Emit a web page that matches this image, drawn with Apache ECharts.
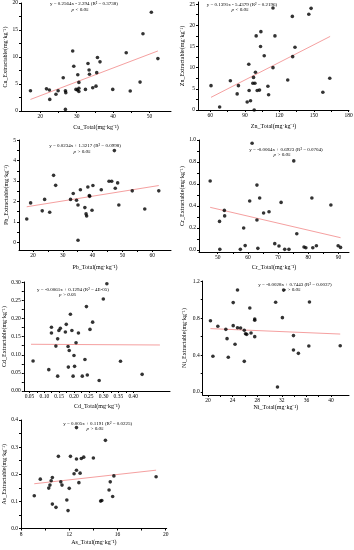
<!DOCTYPE html>
<html>
<head>
<meta charset="utf-8">
<script src="https://cdn.jsdelivr.net/npm/echarts@6.0.0/dist/echarts.min.js"></script>
<style>
html,body{margin:0;padding:0;background:#fff;}
#chart{width:354px;height:550px;}
</style>
</head>
<body>
<div id="chart"></div>
<script>
// ---------------- DATA ----------------
const cuTotal = [17.3, 21.7, 22.5, 22.6, 24.3, 24.9, 26.3, 26.9, 27.0, 26.9, 28.9, 29.2, 29.8, 30.3, 30.6, 30.6, 30.6, 30.2, 32.4, 33.1, 33.4, 33.5, 34.4, 35.3, 35.5, 35.7, 36.4, 39.9, 43.6, 44.7, 47.4, 48.2, 50.5, 52.3];
const cuExtr  = [3.75, 4.1, 3.9, 2.15, 3.1, 3.75, 6.15, 3.75, 3.4, 0.3, 11.1, 8.3, 4.0, 6.7, 5.3, 4.2, 3.6, 3.9, 4.0, 8.8, 7.6, 6.8, 4.3, 4.6, 7.1, 9.9, 9.1, 4.0, 10.8, 3.7, 5.35, 14.3, 18.3, 9.7];
const cuFit   = [[17.3, 2.14], [52.3, 11.12]];
const cuXTicks = [20, 30, 40, 50];
const cuYTicks = [0, 5, 10, 15, 20];

const znTotal = [60.6, 68.1, 77.4, 83.3, 84.4, 92.0, 93.4, 93.7, 94.9, 97.5, 96.9, 98.7, 98.1, 99.2, 99.8, 100.7, 102.7, 103.9, 103.6, 106.8, 110.0, 110.6, 114.4, 114.4, 116.1, 127.2, 131.2, 131.5, 133.5, 145.5, 147.5, 157.7, 163.7];
const znExtr  = [5.75, 0.7, 6.9, 3.8, 5.75, 1.9, 10.8, 4.6, 2.2, 7.7, 6.3, 6.3, 0.0, 8.9, 17.5, 4.6, 4.7, 18.5, 15.0, 12.8, 5.6, 3.6, 10.0, 24.1, 17.5, 7.1, 22.1, 12.6, 14.8, 22.6, 24.0, 4.2, 7.5];
const znFit   = [[60.6, 2.99], [164.0, 17.37]];
const znXTicks = [60, 90, 120, 150, 180];
const znYTicks = [0, 5, 10, 15, 20, 25];

const pbTotal = [17.9, 19.2, 23.1, 23.9, 25.6, 26.9, 27.6, 32.6, 33.5, 34.6, 35.1, 35.1, 35.9, 37.4, 37.8, 38.0, 38.4, 38.9, 39.0, 39.8, 40.1, 42.9, 45.5, 46.4, 47.3, 47.6, 48.4, 48.8, 53.3, 57.5, 62.2];
const pbExtr  = [1.14, 1.93, 1.54, 2.1, 1.47, 3.28, 2.79, 2.1, 2.39, 2.06, 1.83, 0.1, 2.57, 1.7, 1.39, 1.29, 2.71, 2.29, 2.25, 1.57, 2.78, 2.57, 2.99, 2.99, 4.49, 2.65, 2.91, 1.83, 2.52, 1.63, 2.52];
const pbFit   = [[17.9, 1.74], [62.2, 2.78]];
const pbXTicks = [20, 30, 40, 50, 60];
const pbYTicks = [0, 1, 2, 3, 4, 5];

const crTotal = [47.5, 50.6, 50.7, 52.2, 52.3, 57.5, 58.6, 59.1, 60.6, 61.4, 63.0, 63.0, 63.3, 63.9, 65.2, 67.0, 68.9, 70.3, 71.0, 72.2, 73.6, 75.2, 76.2, 78.6, 79.2, 81.2, 81.5, 82.7, 87.5, 89.9, 90.7];
const crExtr  = [0.627, 0.26, 0.006, 0.36, 0.31, 0.006, 0.2, 0.04, 0.445, 0.97, 0.59, 0.273, 0.015, 0.473, 0.336, 0.348, 0.058, 0.036, 0.433, 0.006, 0.006, 0.81, 0.148, 0.027, 0.021, 0.473, 0.021, 0.039, 0.409, 0.039, 0.024];
const crFit   = [[47.5, 0.388], [90.7, 0.112]];
const crXTicks = [50, 60, 70, 80, 90];
const crYTicks = [0, 0.2, 0.4, 0.6, 0.8, 1.0];

const cdTotal = [0.062, 0.115, 0.124, 0.124, 0.139, 0.145, 0.145, 0.149, 0.154, 0.171, 0.174, 0.180, 0.181, 0.184, 0.188, 0.193, 0.197, 0.200, 0.202, 0.207, 0.215, 0.228, 0.237, 0.242, 0.245, 0.254, 0.263, 0.285, 0.299, 0.311, 0.357, 0.43];
const cdExtr  = [0.083, 0.059, 0.176, 0.160, 0.124, 0.144, 0.041, 0.167, 0.173, 0.163, 0.184, 0.123, 0.066, 0.112, 0.212, 0.167, 0.041, 0.098, 0.068, 0.133, 0.160, 0.041, 0.087, 0.233, 0.044, 0.170, 0.190, 0.029, 0.254, 0.296, 0.082, 0.046];
const cdFit   = [[0.055, 0.129], [0.49, 0.127]];
const cdXTicks = [0.05, 0.10, 0.15, 0.20, 0.25, 0.30, 0.35, 0.40];
const cdYTicks = [0, 0.05, 0.10, 0.15, 0.20, 0.25, 0.30];

const niTotal = [20.4, 20.8, 21.6, 22.9, 23.1, 23.3, 24.1, 24.1, 24.4, 24.8, 24.8, 25.3, 25.9, 25.9, 26.1, 26.3, 26.8, 27.0, 27.6, 27.6, 27.6, 31.0, 31.3, 32.1, 32.3, 33.9, 33.9, 34.7, 36.4, 36.5, 41.5];
const niExtr  = [0.773, 0.387, 0.712, 0.679, 0.578, 0.376, 0.969, 0.719, 0.517, 1.106, 0.697, 0.694, 0.669, 0.332, 0.632, 0.625, 0.911, 0.640, 0.791, 0.777, 0.6, 0.972, 0.054, 0.806, 1.106, 0.611, 0.455, 0.419, 0.499, 0.976, 0.502];
const niFit   = [[20.4, 0.687], [41.5, 0.628]];
const niXTicks = [20, 24, 28, 32, 36, 40];
const niYTicks = [0, 0.4, 0.8, 1.2];

const asTotal = [9.1, 9.6, 10.3, 10.4, 10.5, 10.6, 10.6, 10.9, 11.1, 11.3, 11.4, 11.8, 11.9, 12.0, 12.1, 12.4, 12.6, 12.6, 12.6, 12.8, 12.9, 13.0, 13.2, 14.0, 14.6, 14.7, 15.0, 15.3, 15.4, 15.6, 15.7, 19.2];
const asExtr  = [0.121, 0.182, 0.149, 0.160, 0.176, 0.188, 0.090, 0.078, 0.266, 0.172, 0.160, 0.105, 0.066, 0.148, 0.266, 0.202, 0.215, 0.256, 0.372, 0.169, 0.204, 0.258, 0.263, 0.260, 0.101, 0.103, 0.325, 0.142, 0.172, 0.118, 0.194, 0.191];
const asFit   = [[9.1, 0.165], [19.2, 0.215]];
const asXTicks = [8, 12, 16, 20];
const asYTicks = [0, 0.1, 0.2, 0.3, 0.4];

const equations = [
  'y = 0.2564x - 2.294 (R\u00B2 = 0.3738)',
  'y = 0.1391x - 5.4379 (R\u00B2 = 0.2196)',
  'y = 0.0234x + 1.3217 (R\u00B2 = 0.0998)',
  'y = -0.0064x + 0.6923 (R\u00B2 = 0.0704)',
  'y = -0.0061x + 0.1294 (R\u00B2 = 4E-05)',
  'y = -0.0028x + 0.7443 (R\u00B2 = 0.0037)',
  'y = 0.005x + 0.1191 (R\u00B2 = 0.0225)'
];
const pTexts = ['p < 0.05', 'p < 0.05', 'p > 0.05', 'p > 0.05', 'p > 0.05', 'p > 0.05', 'p > 0.05'];
const elements = ['Cu', 'Zn', 'Pb', 'Cr', 'Cd', 'Ni', 'As'];

// ---------------- LAYOUT ----------------
const FONT = '"Liberation Serif", "Times New Roman", serif';
const panels = [
  {tx: cuTotal, ty: cuExtr, fit: cuFit, xt: cuXTicks, yt: cuYTicks, xd: 0, yd: 0,
   g: {left: 21, top: 3, width: 150, height: 108}, xr: [14.7, 55.9], yr: [0, 20],
   eqPos: [84, 4], pPos: [80, 9.5], xGap: 13, yGap: 11},
  {tx: znTotal, ty: znExtr, fit: znFit, xt: znXTicks, yt: znYTicks, xd: 0, yd: 0,
   g: {left: 198, top: 2, width: 151, height: 108}, xr: [49.3, 180.4], yr: [0, 25.5],
   eqPos: [242, 4.3], pPos: [240, 9.7], xGap: 13.5, yGap: 11},
  {tx: pbTotal, ty: pbExtr, fit: pbFit, xt: pbXTicks, yt: pbYTicks, xd: 0, yd: 0,
   g: {left: 19, top: 140, width: 152, height: 110}, xr: [15.3, 66.3], yr: [-0.377, 5.01],
   eqPos: [85, 146], pPos: [82, 151.7], xGap: 14, yGap: 10},
  {tx: crTotal, ty: crExtr, fit: crFit, xt: crXTicks, yt: crYTicks, xd: 0, yd: 1,
   g: {left: 199, top: 140, width: 150, height: 112}, xr: [43.8, 93.5], yr: [-0.018, 1.0],
   eqPos: [286, 149.3], pPos: [282, 154.3], xGap: 12.5, yGap: 11.5},
  {tx: cdTotal, ty: cdExtr, fit: cdFit, xt: cdXTicks, yt: cdYTicks, xd: 2, yd: 2,
   g: {left: 23.8, top: 282, width: 146.2, height: 109}, xr: [0.0307, 0.524], yr: [0, 0.3009],
   eqPos: [73, 290], pPos: [67.5, 295], xGap: 12.3, yGap: 14},
  {tx: niTotal, ty: niExtr, fit: niFit, xt: niXTicks, yt: niYTicks, xd: 0, yd: 1,
   g: {left: 202.7, top: 281, width: 146.3, height: 114}, xr: [19.14, 42.93], yr: [-0.0325, 1.203],
   eqPos: [295, 285], pPos: [292, 290], xGap: 9, yGap: 15},
  {tx: asTotal, ty: asExtr, fit: asFit, xt: asXTicks, yt: asYTicks, xd: 0, yd: 1,
   g: {left: 21, top: 420, width: 145.7, height: 108.5}, xr: [8, 20.08], yr: [0, 0.4],
   eqPos: [97.7, 423.3], pPos: [95, 429], xGap: 11, yGap: 11}
];

function withMinors(t) {
  const out = [];
  for (let i = 0; i < t.length; i++) {
    out.push(t[i]);
    if (i < t.length - 1) out.push((t[i] + t[i + 1]) / 2);
  }
  return out;
}

const grid = [], xAxis = [], yAxis = [], series = [], graphic = [];
panels.forEach((p, i) => {
  const el = elements[i];
  grid.push(Object.assign({outerBoundsMode: 'none', containLabel: false}, p.g));
  const axisCommon = {
    axisLine: {show: true, onZero: false, lineStyle: {color: '#000', width: 1}},
    splitLine: {show: false},
    nameTextStyle: {fontFamily: FONT, fontSize: 6, color: '#000'},
    nameLocation: 'middle'
  };
  xAxis.push(Object.assign({}, axisCommon, {
    gridIndex: i, type: 'value', min: p.xr[0], max: p.xr[1],
    name: el + '_Total(mg\u00B7kg\u207B\u00B9)', nameGap: p.xGap,
    axisTick: {show: true, length: 2, customValues: withMinors(p.xt), lineStyle: {color: '#000'}},
    axisLabel: {customValues: p.xt, fontFamily: FONT, fontSize: 5.5, color: '#000', margin: 3,
      formatter: v => Number(v).toFixed(p.xd)}
  }));
  yAxis.push(Object.assign({}, axisCommon, {
    gridIndex: i, type: 'value', min: p.yr[0], max: p.yr[1],
    name: el + '_Extractable(mg\u00B7kg\u207B\u00B9)', nameGap: p.yGap, nameRotate: 90,
    axisTick: {show: true, length: 2, customValues: withMinors(p.yt), lineStyle: {color: '#000'}},
    axisLabel: {customValues: p.yt, fontFamily: FONT, fontSize: 5.5, color: '#000', margin: 3,
      formatter: v => Number(v).toFixed(p.yd)}
  }));
  series.push({
    type: 'line', xAxisIndex: i, yAxisIndex: i, data: p.fit, symbol: 'none', silent: true,
    lineStyle: {color: '#f5a0a0', width: 1}, z: 1, animation: false
  });
  series.push({
    type: 'scatter', xAxisIndex: i, yAxisIndex: i,
    data: p.tx.map((x, k) => [x, p.ty[k]]),
    symbol: 'circle', symbolSize: 3.6, itemStyle: {color: '#000'}, z: 2, animation: false
  });
  graphic.push({type: 'text', x: p.eqPos[0], y: p.eqPos[1], silent: true,
    style: {text: equations[i], font: '5px ' + FONT, fill: '#000', textAlign: 'center', textVerticalAlign: 'middle'}});
  graphic.push({type: 'text', x: p.pPos[0], y: p.pPos[1], silent: true,
    style: {text: pTexts[i], font: 'italic 5px ' + FONT, fill: '#000', textAlign: 'center', textVerticalAlign: 'middle'}});
});

const chart = echarts.init(document.getElementById('chart'), null, {renderer: 'canvas', devicePixelRatio: 1});
chart.setOption({
  backgroundColor: '#fff',
  animation: false,
  grid, xAxis, yAxis, series, graphic
});
</script>
</body>
</html>
